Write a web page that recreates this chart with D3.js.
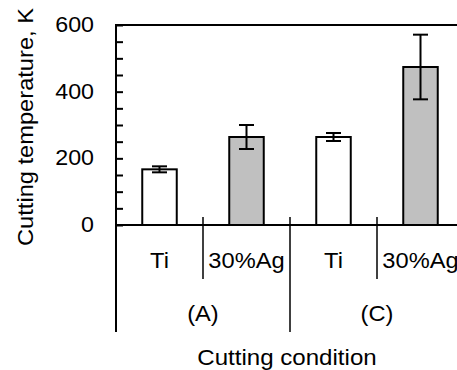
<!DOCTYPE html>
<html>
<head>
<meta charset="utf-8">
<script src="https://unpkg.com/d3@7/dist/d3.min.js"></script>
<style>
  html, body { margin: 0; padding: 0; background: #fff; }
  svg text { font-family: "Liberation Sans", Arial, sans-serif; font-size: 21.5px; fill: #000; }
</style>
</head>
<body>
<div id="chartContainer"></div>
<script>
// values
const conditions = ["(A)", "(C)"];
const materials = ["Ti", "30%Ag"];
const temps = [167, 264, 264, 474];       // K
const errs = [9, 36, 12, 97];
const fills = ["#ffffff", "#c0c0c0", "#ffffff", "#c0c0c0"];
const yTicks = [0, 50, 100, 150, 200, 250, 300, 350, 400, 450, 500, 550, 600];
const yLabels = [0, 200, 400, 600];

const width = 457, height = 370;
const svg = d3.select("#chartContainer").append("svg")
  .attr("width", width)
  .attr("height", height);

// one band per bar
const keys = conditions.flatMap(c => materials.map(m => c + "|" + m));
const x = d3.scaleBand().domain(keys).range([116, 464]).padding(0);
const xGroup = d3.scaleBand().domain(conditions).range([116, 464]).padding(0);
const y = d3.scaleLinear().domain([0, 600]).range([225, 25]);

const barW = 34.5;
const stroke = "#000";

// stretch text a bit horizontally like the original
function widen(sel, k) {
  sel.each(function () {
    const w = this.getComputedTextLength();
    d3.select(this).attr("textLength", w * k).attr("lengthAdjust", "spacingAndGlyphs");
  });
}

// bars
const bars = svg.append("g");
bars.selectAll("rect")
  .data(temps)
  .join("rect")
  .attr("x", (d, i) => x(keys[i]) + (x.bandwidth() - barW) / 2)
  .attr("y", d => y(d))
  .attr("width", barW)
  .attr("height", d => y(0) - y(d))
  .attr("fill", (d, i) => fills[i])
  .attr("stroke", stroke)
  .attr("stroke-width", 2);

// error bars
const eb = svg.append("g").attr("stroke", stroke).attr("stroke-width", 2);
temps.forEach((d, i) => {
  const cx = x(keys[i]) + x.bandwidth() / 2;
  const cap = 7.5;
  eb.append("line").attr("x1", cx).attr("x2", cx).attr("y1", y(d + errs[i])).attr("y2", y(d - errs[i]));
  eb.append("line").attr("x1", cx - cap).attr("x2", cx + cap).attr("y1", y(d + errs[i])).attr("y2", y(d + errs[i]));
  eb.append("line").attr("x1", cx - cap).attr("x2", cx + cap).attr("y1", y(d - errs[i])).attr("y2", y(d - errs[i]));
});

// y axis: inside ticks every 50, labels every 200
const yAxis = svg.append("g")
  .attr("transform", "translate(116,0)")
  .call(d3.axisLeft(y)
    .tickValues(yTicks)
    .tickSizeInner(-7)
    .tickSizeOuter(0)
    .tickPadding(22)
    .tickFormat(d => yLabels.includes(d) ? d : ""));
yAxis.attr("font-size", null).attr("font-family", null);
yAxis.select(".domain").remove();
yAxis.selectAll("line").attr("stroke", stroke).attr("stroke-width", 2);
yAxis.selectAll("text").attr("dy", "0.3em").call(widen, 1.08);

// frame: top line, baseline, left axis extended down into the category table
svg.append("line").attr("x1", 115).attr("x2", 464).attr("y1", y(600)).attr("y2", y(600))
  .attr("stroke", stroke).attr("stroke-width", 2);
svg.append("line").attr("x1", 115).attr("x2", 464).attr("y1", y(0)).attr("y2", y(0))
  .attr("stroke", stroke).attr("stroke-width", 2);
svg.append("line").attr("x1", 116).attr("x2", 116).attr("y1", y(600)).attr("y2", 332)
  .attr("stroke", stroke).attr("stroke-width", 2);

// dividers between materials (short) and conditions (long)
const dividers = svg.append("g").attr("stroke", stroke).attr("stroke-width", 1.5);
conditions.forEach(c => {
  const mid = x(c + "|" + materials[1]);
  dividers.append("line").attr("x1", mid).attr("x2", mid).attr("y1", 217).attr("y2", 279);
  const end = xGroup(c) + xGroup.bandwidth();
  dividers.append("line").attr("x1", end).attr("x2", end).attr("y1", 217).attr("y2", 332);
});

// category labels
svg.append("g").selectAll("text")
  .data(keys)
  .join("text")
  .attr("x", d => x(d) + x.bandwidth() / 2)
  .attr("y", 268)
  .attr("text-anchor", "middle")
  .text(d => d.split("|")[1])
  .call(widen, 1.1);

svg.append("g").selectAll("text")
  .data(conditions)
  .join("text")
  .attr("x", d => xGroup(d) + xGroup.bandwidth() / 2)
  .attr("y", 321)
  .attr("text-anchor", "middle")
  .text(d => d)
  .call(widen, 1.1);

// axis titles
svg.append("text")
  .attr("x", 287)
  .attr("y", 365)
  .attr("text-anchor", "middle")
  .text("Cutting condition")
  .call(widen, 1.12);

svg.append("text")
  .attr("transform", "translate(33,127) rotate(-90)")
  .attr("text-anchor", "middle")
  .text("Cutting temperature, K")
  .call(widen, 1.1);
</script>
</body>
</html>
